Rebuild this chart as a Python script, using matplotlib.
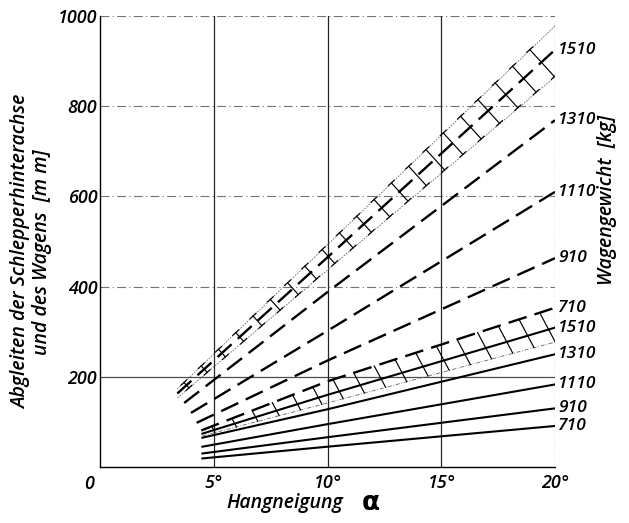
import numpy as np
import matplotlib
matplotlib.use("Agg")
import matplotlib.pyplot as plt

# ---- data ----
weights = ["710", "910", "1110", "1310", "1510"]

# upper group (dashed)
up_x = {
    "1510": [3.4, 10.0, 20.0],
    "1310": [3.7, 10.0, 20.0],
    "1110": [4.0, 10.0, 20.0],
    "910":  [4.25, 10.0, 20.0],
    "710":  [4.45, 10.0, 20.0],
}
up_y = {
    "1510": [163, 465, 925],
    "1310": [142, 388, 769],
    "1110": [120, 302, 610],
    "910":  [98, 236, 463],
    "710":  [81, 190, 353],
}
# band around upper 1510
up_band_x = [3.4, 10.0, 20.0]
up_band_hi = [173, 493, 978]
up_band_lo = [153, 437, 865]

# lower group (solid)
lo_x = [4.5, 10.0, 20.0]
lo_y = {
    "1510": [74, 160, 309],
    "1310": [65, 128, 250],
    "1110": [45, 95, 183],
    "910":  [30, 66, 130],
    "710":  [19, 45, 91],
}
lo_band_lo = [69, 142, 277]

xticks = [5, 10, 15, 20]
xticklabels = ["5°", "10°", "15°", "20°"]
yticks = [200, 400, 600, 800, 1000]
yticklabels = ["200", "400", "600", "800", "1000"]

tfont = dict(family=["Open Sans", "DejaVu Sans"], style="italic", weight="semibold")
lfont = dict(family=["Open Sans", "DejaVu Sans"], style="italic", weight="semibold")

W, H = 629, 523
fig = plt.figure(figsize=(W / 100, H / 100), dpi=100)
ax = fig.add_axes([100 / W, 1 - 467 / H, 455 / W, 451 / H])
ax.set_xlim(0, 20)
ax.set_ylim(0, 1000)

# grid
for yv in [400, 600, 800, 1000]:
    ax.axhline(yv, color="0.45", lw=0.8, ls=(0, (8, 3, 1, 3)), zorder=1)
ax.axhline(200, color="0.3", lw=0.9, zorder=1)
for xv in [5, 10, 15]:
    ax.axvline(xv, color="0.15", lw=0.9, zorder=1)
ax.axvline(20, color="0.35", lw=0.8, ls=(0, (6, 3)), zorder=1)
for s in ["top", "right"]:
    ax.spines[s].set_visible(False)
ax.spines["left"].set_linewidth(1.0)
ax.spines["bottom"].set_linewidth(1.0)

ax.set_xticks(xticks)
ax.set_xticklabels(xticklabels, fontsize=13, **tfont)
ax.set_yticks(yticks)
ax.set_yticklabels(yticklabels, fontsize=13, **tfont)
ax.tick_params(axis="both", length=0)
ax.tick_params(axis="y", pad=2)
ax.tick_params(axis="x", pad=5)
ax.annotate("0", xy=(0, 0), xytext=(-8, -12), textcoords="offset points",
            ha="center", va="center", fontsize=13, **tfont)

# upper dashed lines
for w in weights:
    ax.plot(up_x[w], up_y[w], color="black", lw=1.7, ls=(0, (8, 3.5)),
            dash_capstyle="butt", zorder=3)
# upper band edges
ax.plot(up_band_x, up_band_hi, color="0.4", lw=0.6, ls=(0, (2, 1.5)), zorder=2)
ax.plot(up_band_x, up_band_lo, color="0.4", lw=0.6, ls=(0, (2, 1.5)), zorder=2)

# lower solid lines
for w in weights:
    ax.plot(lo_x, lo_y[w], color="black", lw=1.5, zorder=3)
ax.plot(lo_x, lo_band_lo, color="0.4", lw=0.6, ls=(0, (5, 2, 1, 2)), zorder=2)

fig.canvas.draw()
T = ax.transData
Ti = T.inverted()

def hatch(xs, yc, yhi, ylo, positions, serif, lw=0.8, angle=None):
    for t in positions:
        c = T.transform((t, np.interp(t, xs, yc)))
        d1 = T.transform((t + 0.05, np.interp(t + 0.05, xs, yc)))
        u = (d1 - c) / np.linalg.norm(d1 - c)
        if angle is None:
            nrm = np.array([-u[1], u[0]])
        else:
            a = np.deg2rad(angle)
            nrm = np.array([np.cos(a), np.sin(a)])
        hi = T.transform((t, np.interp(t, xs, yhi)))
        lo = T.transform((t, np.interp(t, xs, ylo)))
        # intersect c + s*nrm with edges (edges locally parallel to u)
        cross = nrm[1] * u[0] - nrm[0] * u[1]
        dhi = (hi[1] - c[1]) * u[0] / cross
        dlo = (c[1] - lo[1]) * u[0] / cross
        p_top = c + nrm * dhi
        p_bot = c - nrm * dlo
        pts = Ti.transform(np.array([p_top, p_bot]))
        ax.plot(pts[:, 0], pts[:, 1], color="black", lw=lw, zorder=4)
        if serif:
            for p in (p_top, p_bot):
                s = Ti.transform(np.array([p - u * serif, p + u * serif]))
                ax.plot(s[:, 0], s[:, 1], color="black", lw=lw, zorder=4)

hatch(up_band_x, up_y["1510"], up_band_hi, up_band_lo,
      np.arange(3.8, 19.9, 0.78), 4.0, lw=0.85)
hatch(lo_x, lo_y["1510"], up_y["710"], lo_band_lo,
      np.arange(5.0, 19.9, 0.92), 0, lw=0.85, angle=118)

# right-hand labels
for w in weights:
    ax.annotate(w, xy=(20, up_y[w][-1]), xytext=(2, 0), textcoords="offset points",
                ha="left", va="center", fontsize=12.5, annotation_clip=False, **tfont)
    ax.annotate(w, xy=(20, lo_y[w][-1]), xytext=(2, 0), textcoords="offset points",
                ha="left", va="center", fontsize=12.5, annotation_clip=False, **tfont)

fig.text(32 / W, 1 - 252 / H, "Abgleiten der Schlepperhinterachse\nund des Wagens  [m m]",
         rotation=90, ha="center", va="center", fontsize=14, linespacing=1.05,
         multialignment="center", **lfont)
fig.text(285 / W, 1 - 503 / H, "Hangneigung", ha="center", va="center",
         fontsize=14, **lfont)
fig.text(371 / W, 1 - 503 / H, "α", ha="center", va="center",
         fontsize=19, family="DejaVu Sans", weight="bold")
fig.text(607 / W, 1 - 200 / H, "Wagengewicht  [kg]", rotation=90,
         ha="center", va="center", fontsize=14, **lfont)

fig.savefig("out.png", dpi=100, facecolor="white")
